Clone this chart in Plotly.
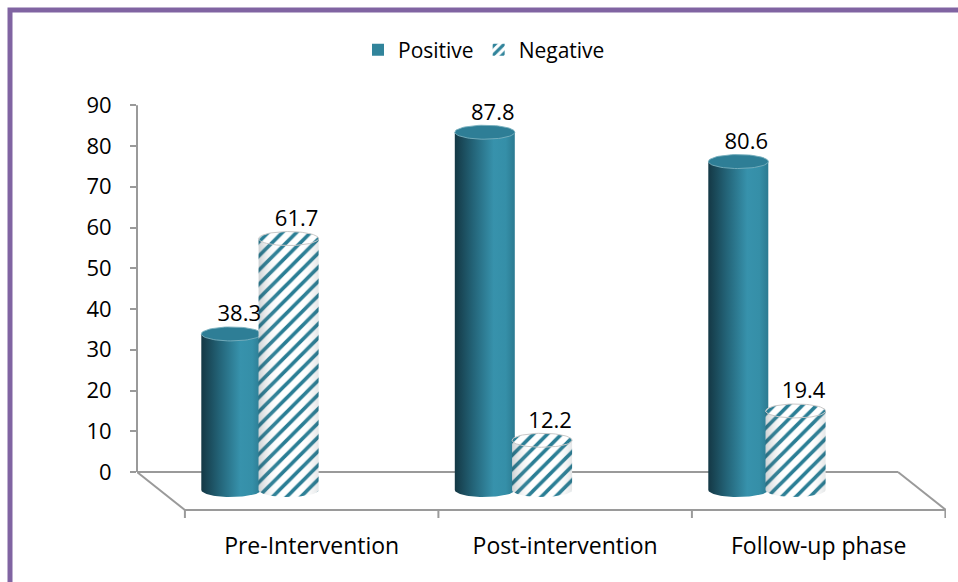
import numpy as np
import plotly.graph_objects as go

# ---- data -------------------------------------------------------------
categories = ["Pre-Intervention", "Post-intervention", "Follow-up phase"]
positive = [38.3, 87.8, 80.6]
negative = [61.7, 12.2, 19.4]
series_names = ["Positive", "Negative"]
y_ticks = [0, 10, 20, 30, 40, 50, 60, 70, 80, 90]

# ---- figure geometry ----------------------------------------------------
W, H = 958, 582
M_L, M_R, M_T, M_B = 137, 12, 95, 52
PLOT_W = W - M_L - M_R
PLOT_H = H - M_T - M_B
PX_CAT = 253.5          # pixels per category
PX_VAL = 4.075          # pixels per percentage point

# label axis (front of the floor) and cylinder axis (mid depth)
X_LBL = [-0.689, -0.689 + PLOT_W / PX_CAT]
X_CYL = [-0.485, -0.485 + PLOT_W / PX_CAT]
Y_AX = [-58 / PX_VAL, 377 / PX_VAL]
Y_CYL = [-40 / PX_VAL, 395 / PX_VAL]

HALF_W = 30 / PX_CAT     # cylinder radius (x units)
OFFSET = 0.113           # shift of each series from category centre
ELL = 7 / PX_VAL         # half-height of the elliptical caps (y units)
LABEL_DX = 8 / PX_CAT

TEAL = "#31849B"
FONT = "Open Sans"


def body(cx, v):
    t = np.linspace(np.pi, 2 * np.pi, 48)
    xs = list(cx + HALF_W * np.cos(t)) + [cx + HALF_W, cx - HALF_W, cx - HALF_W]
    ys = list(ELL * np.sin(t)) + [v, v, 0]
    return xs, ys


def cap(cx, v):
    t = np.linspace(0, 2 * np.pi, 64)
    return list(cx + HALF_W * np.cos(t)), list(v + ELL * np.sin(t))


fig = go.Figure()

pos_scale = [[0, "#143845"], [0.3, "#236377"], [0.65, "#3792AC"],
             [0.85, "#358FA8"], [1, "#2B7A91"]]
shade_scale = [[0, "rgba(30,50,60,0.22)"], [0.35, "rgba(255,255,255,0)"],
               [0.7, "rgba(255,255,255,0)"], [1, "rgba(30,50,60,0.12)"]]
stripes = dict(shape="/", fgcolor="#2A7E95", fgopacity=1, bgcolor="white",
               size=10, solidity=0.36)

for i, (p, n) in enumerate(zip(positive, negative)):
    # positive: solid gradient cylinder
    cx = i - OFFSET
    xs, ys = body(cx, p)
    fig.add_trace(go.Scatter(x=xs, y=ys, xaxis="x2", yaxis="y2", mode="lines",
                             line=dict(width=0), fill="toself",
                             fillgradient=dict(type="horizontal", colorscale=pos_scale),
                             showlegend=False, hoverinfo="skip"))
    xs, ys = cap(cx, p)
    fig.add_trace(go.Scatter(x=xs, y=ys, xaxis="x2", yaxis="y2", mode="lines",
                             line=dict(width=1, color="rgba(120,175,190,0.9)"),
                             fill="toself", fillcolor="#2E7E96",
                             showlegend=False, hoverinfo="skip"))
    # negative: hatched cylinder
    cx = i + OFFSET
    xs, ys = body(cx, n)
    fig.add_trace(go.Scatter(x=xs, y=ys, xaxis="x2", yaxis="y2", mode="lines",
                             line=dict(width=0), fill="toself", fillcolor="white",
                             fillpattern=stripes, showlegend=False, hoverinfo="skip"))
    fig.add_trace(go.Scatter(x=xs, y=ys, xaxis="x2", yaxis="y2", mode="lines",
                             line=dict(width=0), fill="toself",
                             fillgradient=dict(type="horizontal", colorscale=shade_scale),
                             showlegend=False, hoverinfo="skip"))
    xs, ys = cap(cx, n)
    fig.add_trace(go.Scatter(x=xs, y=ys, xaxis="x2", yaxis="y2", mode="lines",
                             line=dict(width=1, color="#C8C8C8"),
                             fill="toself", fillcolor="white", fillpattern=stripes,
                             showlegend=False, hoverinfo="skip"))

# value labels
for vals, sign in ((positive, -1), (negative, 1)):
    fig.add_trace(go.Scatter(
        x=[i + sign * OFFSET + LABEL_DX for i in range(len(vals))],
        y=[v + ELL for v in vals], xaxis="x2", yaxis="y2",
        mode="text", text=[f"{v:.1f}" for v in vals], textposition="top center",
        textfont=dict(family=FONT, size=22, color="black"),
        showlegend=False, hoverinfo="skip"))

# legend keys
fig.add_trace(go.Bar(x=[None], y=[None], name=series_names[0],
                     marker=dict(color=TEAL, line=dict(width=0))))
fig.add_trace(go.Bar(x=[None], y=[None], name=series_names[1],
                     marker=dict(color="white", line=dict(width=0),
                                 pattern=dict(shape="/", fgcolor=TEAL, fgopacity=1,
                                              bgcolor="white", size=8, solidity=0.5))))

# ---- floor and axis lines ----------------------------------------------
GRAY = "#9A9A9A"
front_y = -38 / PX_VAL
back_right = (898 - M_L) / PX_CAT + X_LBL[0]
lines = [
    (X_LBL[0], 0, back_right, 0),
    (-0.5, front_y, X_LBL[1], front_y),
    (X_LBL[0], 0, -0.5, front_y),
    (back_right, 0, X_LBL[1], front_y),
]
lines += [(k - 0.5, front_y, k - 0.5, front_y - 8 / PX_VAL) for k in range(len(categories) + 1)]
shapes = [dict(type="line", xref="x", yref="y", x0=a, y0=b, x1=c, y1=d,
               line=dict(color=GRAY, width=2), layer="below") for a, b, c, d in lines]
shapes.append(dict(type="line", xref="paper", yref="y", x0=0, x1=0,
                   y0=y_ticks[0], y1=y_ticks[-1], line=dict(color=GRAY, width=2),
                   layer="below"))


def px_x(px):
    return (px - M_L) / PLOT_W


def px_y(py):
    return (H - M_B - py) / PLOT_H


# purple frame
shapes.append(dict(type="rect", xref="paper", yref="paper",
                   x0=px_x(10), y0=px_y(10), x1=px_x(W + 40), y1=px_y(H + 40),
                   line=dict(color="#8064A2", width=5), layer="above"))

fig.update_layout(
    width=W, height=H,
    margin=dict(l=M_L, r=M_R, t=M_T, b=M_B),
    paper_bgcolor="white", plot_bgcolor="white",
    font=dict(family=FONT, size=22, color="black"),
    shapes=shapes,
    showlegend=True,
    legend=dict(orientation="h", x=px_x(484), xanchor="center",
                y=px_y(50), yanchor="middle", font=dict(size=21),
                itemclick=False, traceorder="normal"),
    xaxis=dict(range=X_LBL, tickvals=list(range(len(categories))), ticktext=categories,
               showgrid=False, zeroline=False, showline=False, ticks="",
               tickfont=dict(size=23)),
    yaxis=dict(range=Y_AX, tickvals=y_ticks, showgrid=False, zeroline=False,
               showline=False, ticks="outside", ticklen=6, tickcolor=GRAY,
               tickwidth=2, ticklabelstandoff=14, tickfont=dict(size=22)),
    xaxis2=dict(range=X_CYL, overlaying="x", anchor="y2", visible=False),
    yaxis2=dict(range=Y_CYL, overlaying="y", anchor="x2", visible=False),
)

fig.write_html("out.html")
